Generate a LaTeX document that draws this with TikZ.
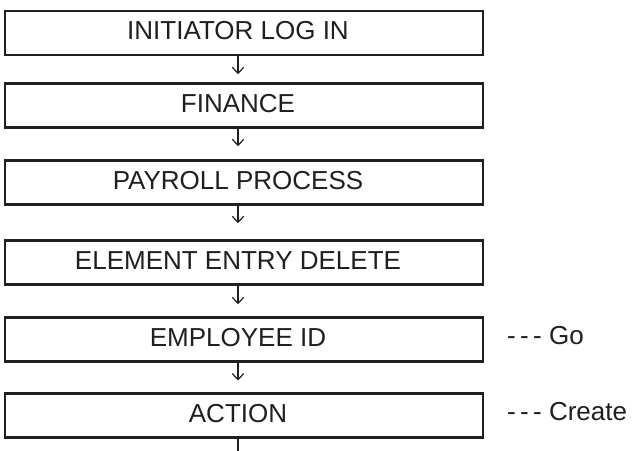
\documentclass[tikz,border=0pt]{standalone}
\usepackage{fontspec}
\setmainfont{Liberation Sans}
\usetikzlibrary{arrows.meta,positioning}

\tikzset{
  stage/.style={draw=black!88, line width=1.9pt, minimum width=358.5pt,
    minimum height=33pt, inner sep=0pt, label={[caption]center:#1}},
  caption/.style={font=\fontsize{19.5pt}{23pt}\selectfont, text=black!88,
    inner sep=0pt, label distance=0pt, xshift=-4.5pt, yshift=1.8pt},
  note/.style={font=\fontsize{19.5pt}{23pt}\selectfont, text=black!88,
    inner sep=0pt, yshift=3pt}
}

\begin{document}
\begin{tikzpicture}[x=0.75pt,y=0.75pt]
  \useasboundingbox (0,0) rectangle (632,450);

  \begin{scope}
    \node[stage={INITIATOR LOG IN}] (login) at (244,417) {};
    \node[stage={FINANCE}] (finance) at (244,344.5) {};
    \node[stage={PAYROLL PROCESS}] (payroll) at (244,267.5) {};
    \node[stage={ELEMENT ENTRY DELETE}] (delete) at (244,187.5) {};
    \node[stage={EMPLOYEE ID}] (empid) at (244,110.5) {};
    \node[stage={ACTION}] (action) at (244,34.25) {};
  \end{scope}

  \node[note, right=17pt of empid] (go) {-\,-\,- Go};
  \node[note, right=17pt of action] (create) {-\,-\,- Create};

  \coordinate (next) at ([xshift=-4.5pt,yshift=-15pt]action.south);

  \begin{scope}[every edge/.style={draw=black!88, line width=0.9pt,
      -{Straight Barb[length=4.5pt,width=8.5pt]}}]
    \path ([xshift=-4.5pt]login.south) edge [shorten >=6pt] ([xshift=-4.5pt]finance.north);
    \path ([xshift=-4.5pt]finance.south) edge [shorten >=9.75pt] ([xshift=-4.5pt]payroll.north);
    \path ([xshift=-4.5pt]payroll.south) edge [shorten >=12pt] ([xshift=-4.5pt]delete.north);
    \path ([xshift=-4.5pt]delete.south) edge [shorten >=9pt] ([xshift=-4.5pt]empid.north);
    \path ([xshift=-4.5pt]empid.south) edge [shorten >=9pt] ([xshift=-4.5pt]action.north);
    \path ([xshift=-4.5pt]action.south) edge (next);
  \end{scope}
\end{tikzpicture}
\end{document}
